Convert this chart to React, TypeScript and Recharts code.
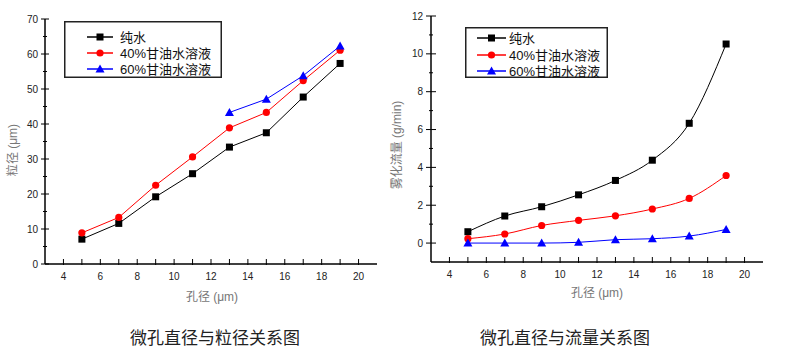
import React from 'react';
import { LineChart, Line, XAxis, YAxis } from 'recharts';

// pore diameter (um)
const poreSize = [5, 7, 9, 11, 13, 15, 17, 19];

// particle size (um)
const sizeWater = [7.1, 11.6, 19.2, 25.8, 33.4, 37.5, 47.7, 57.3];
const size40 = [8.9, 13.3, 22.5, 30.6, 38.9, 43.3, 52.4, 61.1];
const size60 = [null, null, null, null, 43.3, 47.1, 53.8, 62.3];

// atomization flow (g/min)
const flowWater = [0.6, 1.43, 1.92, 2.55, 3.31, 4.38, 6.33, 10.52];
const flow40 = [0.23, 0.48, 0.93, 1.2, 1.44, 1.8, 2.36, 3.57];
const flow60 = [0, 0, 0, 0.04, 0.18, 0.23, 0.37, 0.72];

const seriesNames = ['纯水', '40%甘油水溶液', '60%甘油水溶液'];
const xTicks = [4, 5, 6, 7, 8, 9, 10, 11, 12, 13, 14, 15, 16, 17, 18, 19, 20];
const sizeTicks = [0, 5, 10, 15, 20, 25, 30, 35, 40, 45, 50, 55, 60, 65, 70];
const flowTicks = [0, 1, 2, 3, 4, 5, 6, 7, 8, 9, 10, 11, 12];

const sizeData = poreSize.map((x, i) => ({ x, water: sizeWater[i], g40: size40[i], g60: size60[i] }));
const flowData = poreSize.map((x, i) => ({ x, water: flowWater[i], g40: flow40[i], g60: flow60[i] }));

const colors = ['#000000', '#ff0000', '#0000ff'];
const tickFont = '"Liberation Sans", Arial, sans-serif';
const cjkFont = '"Liberation Sans", "Noto Sans CJK SC", sans-serif';

const marker = (kind: number, cx: number, cy: number, key?: string) => {
  if (kind === 0) return <rect key={key} x={cx - 3.5} y={cy - 3.5} width={7} height={7} fill={colors[0]} />;
  if (kind === 1) return <circle key={key} cx={cx} cy={cy} r={3.6} fill={colors[1]} />;
  return <polygon key={key} points={`${cx},${cy - 4.5} ${cx - 4.5},${cy + 3.5} ${cx + 4.5},${cy + 3.5}`} fill={colors[2]} />;
};

const makeDot = (kind: number) => (props: any) => {
  const k = `dot-${kind}-${props.index}`;
  if (props.cy == null || props.cx == null || props.value == null) return <g key={k} />;
  return marker(kind, props.cx, props.cy, k);
};

const XTick = ({ x, y, payload }: any) => {
  const major = payload.value % 2 === 0;
  return (
    <g>
      <line x1={x} x2={x} y1={y + 1} y2={y - 5} stroke="#000" strokeWidth={1} />
      {major && (
        <text x={x} y={y + 16} textAnchor="middle" fontSize={10} fontFamily={tickFont} fill="#222">
          {payload.value}
        </text>
      )}
    </g>
  );
};

const makeYTick = (step: number, len: number, gap: number) => ({ x, y, payload }: any) => {
  const major = payload.value % step === 0;
  const l = major ? len : 2;
  return (
    <g>
      <line x1={x - l} x2={x + l} y1={y} y2={y} stroke="#000" strokeWidth={1} />
      {major && (
        <text x={x - gap} y={y + 3.5} textAnchor="end" fontSize={10} fontFamily={tickFont} fill="#222">
          {payload.value}
        </text>
      )}
    </g>
  );
};

// legend box drawn at page coordinates
const LegendBox = ({ left, top, w, h, rows, x1, x2, tx }: any) => (
  <g transform={`translate(${left} ${top})`}>
    <rect x={0.75} y={0.75} width={w - 1.5} height={h - 1.5} fill="#fff" stroke="#222" strokeWidth={1.5} />
    {seriesNames.map((name, i) => (
      <g key={name}>
        <line x1={x1} x2={x2} y1={rows[i]} y2={rows[i]} stroke={colors[i]} strokeWidth={1.5} />
        {marker(i, (x1 + x2) / 2, rows[i])}
        <text x={tx} y={rows[i] + 4.5} fontSize={13} fontFamily={cjkFont} fill="#111">
          {name}
        </text>
      </g>
    ))}
  </g>
);

const App = () => {
  return (
    <div style={{ position: 'absolute', left: 0, top: 0, width: 809, height: 364, background: '#fff' }}>
      {/* particle size chart */}
      <div style={{ position: 'absolute', left: 0, top: 0 }}>
        <LineChart width={400} height={300} data={sizeData} margin={{ top: 19, right: 23, left: 0, bottom: 0 }}>
          <XAxis
            dataKey="x"
            type="number"
            domain={[3, 21]}
            ticks={xTicks}
            interval={0}
            height={36}
            tickSize={0}
            tickMargin={0}
            tick={<XTick />}
            axisLine={{ stroke: '#000', strokeWidth: 1.5 }}
            allowDataOverflow
          />
          <YAxis
            type="number"
            domain={[0, 70]}
            ticks={sizeTicks}
            interval={0}
            width={45}
            tickSize={0}
            tickMargin={0}
            tick={makeYTick(10, 4, 7)}
            axisLine={{ stroke: '#000', strokeWidth: 1.5 }}
            allowDataOverflow
          />
          <Line type="linear" dataKey="water" name={seriesNames[0]} stroke={colors[0]} strokeWidth={1} dot={makeDot(0)} isAnimationActive={false} />
          <Line type="linear" dataKey="g40" name={seriesNames[1]} stroke={colors[1]} strokeWidth={1} dot={makeDot(1)} isAnimationActive={false} />
          <Line type="linear" dataKey="g60" name={seriesNames[2]} stroke={colors[2]} strokeWidth={1} dot={makeDot(2)} isAnimationActive={false} />
        </LineChart>
      </div>

      {/* flow chart */}
      <div style={{ position: 'absolute', left: 380, top: 0 }}>
        <LineChart width={420} height={300} data={flowData} margin={{ top: 16, right: 37, left: 0, bottom: 0 }}>
          <XAxis
            dataKey="x"
            type="number"
            domain={[3, 21]}
            ticks={xTicks}
            interval={0}
            height={38}
            tickSize={0}
            tickMargin={0}
            tick={<XTick />}
            axisLine={{ stroke: '#000', strokeWidth: 1.5 }}
            allowDataOverflow
          />
          <YAxis
            type="number"
            domain={[-1, 12]}
            ticks={flowTicks}
            interval={0}
            width={51}
            tickSize={0}
            tickMargin={0}
            tick={makeYTick(2, 5, 8)}
            axisLine={{ stroke: '#000', strokeWidth: 1.5 }}
            allowDataOverflow
          />
          <Line type="monotone" dataKey="water" name={seriesNames[0]} stroke={colors[0]} strokeWidth={1} dot={makeDot(0)} isAnimationActive={false} />
          <Line type="monotone" dataKey="g40" name={seriesNames[1]} stroke={colors[1]} strokeWidth={1} dot={makeDot(1)} isAnimationActive={false} />
          <Line type="monotone" dataKey="g60" name={seriesNames[2]} stroke={colors[2]} strokeWidth={1} dot={makeDot(2)} isAnimationActive={false} />
        </LineChart>
      </div>

      {/* legends, titles and captions */}
      <svg width={809} height={364} style={{ position: 'absolute', left: 0, top: 0, pointerEvents: 'none' }}>
        <LegendBox left={64} top={21} w={158} h={57} rows={[16, 32, 48]} x1={23} x2={49} tx={56} />
        <LegendBox left={465} top={27} w={143} h={51} rows={[11, 28, 44]} x1={12} x2={41} tx={44} />
        <g fontFamily={cjkFont} fontSize={12} fill="#777">
          <text x={14} y={150} textAnchor="middle" dominantBaseline="middle" transform="rotate(-90 14 150)">粒径 (μm)</text>
          <text x={398} y={145} textAnchor="middle" dominantBaseline="middle" transform="rotate(-90 398 145)">雾化流量 (g/min)</text>
          <text x={212} y={301} textAnchor="middle">孔径 (μm)</text>
          <text x={597} y={297} textAnchor="middle">孔径 (μm)</text>
        </g>
        <g fontFamily={cjkFont} fontSize={17} fill="#222">
          <text x={215} y={344} textAnchor="middle">微孔直径与粒径关系图</text>
          <text x={565} y={344} textAnchor="middle">微孔直径与流量关系图</text>
        </g>
      </svg>
    </div>
  );
};

export default App;
